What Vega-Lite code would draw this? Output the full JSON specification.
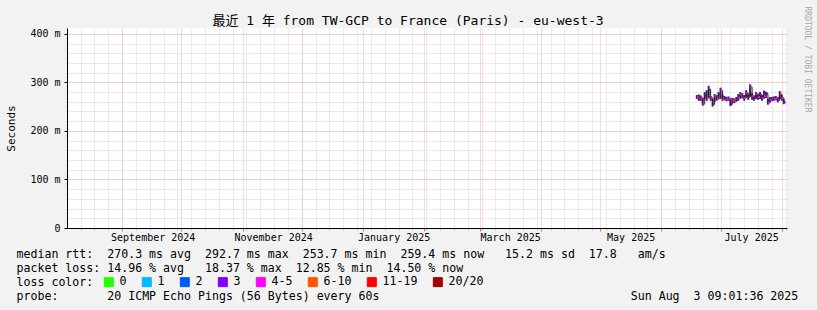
{
  "$schema": "https://vega.github.io/schema/vega-lite/v6.json",
  "width": 720,
  "height": 200,
  "autosize": {"type": "none"},
  "padding": {"left": 67, "top": 28, "right": 30, "bottom": 82},
  "background": "#f2f2f2",
  "title": {
    "text": "最近 1 年 from TW-GCP to France (Paris) - eu-west-3",
    "font": "DejaVu Sans Mono, Noto Sans CJK SC",
    "fontSize": 13,
    "fontWeight": "normal",
    "color": "black",
    "anchor": "middle",
    "frame": "group",
    "dx": -19,
    "offset": -32,
    "baseline": "alphabetic"
  },
  "config": {"view": {"stroke": null, "fill": "white"}, "font": "DejaVu Sans Mono"},
  "data": {
    "values": [
      {"date": "2025-06-19", "end": "2025-06-20", "med": 270, "lo": 266, "hi": 274, "loss": "4-5"},
      {"date": "2025-06-20", "end": "2025-06-21", "med": 271, "lo": 262, "hi": 275, "loss": "3"},
      {"date": "2025-06-21", "end": "2025-06-22", "med": 268, "lo": 262, "hi": 273, "loss": "4-5"},
      {"date": "2025-06-22", "end": "2025-06-23", "med": 256, "lo": 252, "hi": 268, "loss": "4-5"},
      {"date": "2025-06-23", "end": "2025-06-24", "med": 275, "lo": 266, "hi": 280, "loss": "3"},
      {"date": "2025-06-24", "end": "2025-06-25", "med": 268, "lo": 262, "hi": 284, "loss": "4-5"},
      {"date": "2025-06-25", "end": "2025-06-26", "med": 285, "lo": 268, "hi": 293, "loss": "3"},
      {"date": "2025-06-26", "end": "2025-06-27", "med": 268, "lo": 262, "hi": 272, "loss": "4-5"},
      {"date": "2025-06-27", "end": "2025-06-28", "med": 255, "lo": 250, "hi": 266, "loss": "3"},
      {"date": "2025-06-28", "end": "2025-06-29", "med": 272, "lo": 260, "hi": 276, "loss": "4-5"},
      {"date": "2025-06-29", "end": "2025-06-30", "med": 266, "lo": 262, "hi": 274, "loss": "4-5"},
      {"date": "2025-06-30", "end": "2025-07-01", "med": 276, "lo": 265, "hi": 280, "loss": "3"},
      {"date": "2025-07-01", "end": "2025-07-02", "med": 283, "lo": 266, "hi": 289, "loss": "4-5"},
      {"date": "2025-07-02", "end": "2025-07-03", "med": 266, "lo": 262, "hi": 276, "loss": "4-5"},
      {"date": "2025-07-03", "end": "2025-07-04", "med": 268, "lo": 263, "hi": 272, "loss": "3"},
      {"date": "2025-07-04", "end": "2025-07-05", "med": 265, "lo": 261, "hi": 270, "loss": "4-5"},
      {"date": "2025-07-05", "end": "2025-07-06", "med": 267, "lo": 262, "hi": 271, "loss": "4-5"},
      {"date": "2025-07-06", "end": "2025-07-07", "med": 255, "lo": 251, "hi": 266, "loss": "3"},
      {"date": "2025-07-07", "end": "2025-07-08", "med": 263, "lo": 258, "hi": 268, "loss": "4-5"},
      {"date": "2025-07-08", "end": "2025-07-09", "med": 262, "lo": 257, "hi": 267, "loss": "4-5"},
      {"date": "2025-07-09", "end": "2025-07-10", "med": 264, "lo": 260, "hi": 270, "loss": "3"},
      {"date": "2025-07-10", "end": "2025-07-11", "med": 268, "lo": 262, "hi": 276, "loss": "4-5"},
      {"date": "2025-07-11", "end": "2025-07-12", "med": 275, "lo": 266, "hi": 280, "loss": "4-5"},
      {"date": "2025-07-12", "end": "2025-07-13", "med": 272, "lo": 267, "hi": 278, "loss": "3"},
      {"date": "2025-07-13", "end": "2025-07-14", "med": 268, "lo": 262, "hi": 274, "loss": "4-5"},
      {"date": "2025-07-14", "end": "2025-07-15", "med": 278, "lo": 268, "hi": 284, "loss": "4-5"},
      {"date": "2025-07-15", "end": "2025-07-16", "med": 270, "lo": 264, "hi": 276, "loss": "3"},
      {"date": "2025-07-16", "end": "2025-07-17", "med": 290, "lo": 270, "hi": 296, "loss": "4-5"},
      {"date": "2025-07-17", "end": "2025-07-18", "med": 272, "lo": 264, "hi": 278, "loss": "4-5"},
      {"date": "2025-07-18", "end": "2025-07-19", "med": 268, "lo": 262, "hi": 273, "loss": "3"},
      {"date": "2025-07-19", "end": "2025-07-20", "med": 276, "lo": 266, "hi": 280, "loss": "4-5"},
      {"date": "2025-07-20", "end": "2025-07-21", "med": 270, "lo": 264, "hi": 276, "loss": "4-5"},
      {"date": "2025-07-21", "end": "2025-07-22", "med": 274, "lo": 266, "hi": 280, "loss": "3"},
      {"date": "2025-07-22", "end": "2025-07-23", "med": 268, "lo": 262, "hi": 274, "loss": "4-5"},
      {"date": "2025-07-23", "end": "2025-07-24", "med": 272, "lo": 266, "hi": 283, "loss": "4-5"},
      {"date": "2025-07-24", "end": "2025-07-25", "med": 277, "lo": 268, "hi": 281, "loss": "3"},
      {"date": "2025-07-25", "end": "2025-07-26", "med": 258, "lo": 254, "hi": 266, "loss": "4-5"},
      {"date": "2025-07-26", "end": "2025-07-27", "med": 264, "lo": 259, "hi": 270, "loss": "4-5"},
      {"date": "2025-07-27", "end": "2025-07-28", "med": 266, "lo": 261, "hi": 270, "loss": "3"},
      {"date": "2025-07-28", "end": "2025-07-29", "med": 266, "lo": 262, "hi": 271, "loss": "4-5"},
      {"date": "2025-07-29", "end": "2025-07-30", "med": 268, "lo": 263, "hi": 272, "loss": "4-5"},
      {"date": "2025-07-30", "end": "2025-07-31", "med": 264, "lo": 259, "hi": 270, "loss": "3"},
      {"date": "2025-07-31", "end": "2025-08-01", "med": 276, "lo": 266, "hi": 282, "loss": "4-5"},
      {"date": "2025-08-01", "end": "2025-08-02", "med": 268, "lo": 262, "hi": 274, "loss": "4-5"},
      {"date": "2025-08-02", "end": "2025-08-03", "med": 259, "lo": 255, "hi": 266, "loss": "3"}
    ]
  },
  "resolve": {"axis": {"x": "independent", "y": "independent"}},
  "layer": [
    {
      "mark": {"type": "rule", "strokeWidth": 2, "color": "#333333"},
      "encoding": {
        "x": {
          "field": "date", "type": "temporal",
          "scale": {"type": "utc", "nice": false, "domain": [
            {"year": 2024, "month": 8, "date": 4, "hours": 3, "utc": true},
            {"year": 2025, "month": 8, "date": 3, "hours": 16, "utc": true}]},
          "axis": {"orient": "bottom", "tickCount": {"interval": "week", "step": 1}, "grid": true, "gridColor": "#d6d6d6", "gridDash": [1, 1], "labels": false, "domain": false, "ticks": true, "tickSize": 2, "tickColor": "#bbbbbb", "title": null}
        },
        "y": {
          "field": "lo", "type": "quantitative",
          "scale": {"domain": [0, 412], "nice": false},
          "axis": {"orient": "right", "values": [20, 40, 60, 80, 100, 120, 140, 160, 180, 200, 220, 240, 260, 280, 300, 320, 340, 360, 380, 400], "grid": true, "gridColor": "#d6d6d6", "gridDash": [1, 1], "labels": false, "ticks": false, "domain": false,
            "title": "RRDTOOL / TOBI OETIKER", "titleAngle": 90, "titleColor": "#a8a8a8", "titleFontSize": 8, "titleFontWeight": "normal", "titleFont": "DejaVu Sans Mono", "titleX": 19, "titleY": 31, "titleAlign": "center", "titleBaseline": "middle"}
        },
        "y2": {"field": "hi"}
      }
    },
    {
      "mark": {"type": "line", "interpolate": "step-after", "color": "#202020", "strokeWidth": 1},
      "encoding": {
        "x": {
          "field": "date", "type": "temporal",
          "axis": {"orient": "bottom", "tickCount": {"interval": "month", "step": 1}, "grid": true, "gridColor": "#f5b0b0", "gridDash": [1, 1], "labels": false, "domain": false, "ticks": true, "tickSize": 3, "tickColor": "#e07070", "title": null}
        },
        "y": {
          "field": "med", "type": "quantitative",
          "axis": {"orient": "left", "values": [100, 200, 300, 400], "grid": true, "gridColor": "#f5b0b0", "gridDash": [1, 1], "labels": false, "ticks": false, "domain": false, "title": null}
        }
      }
    },
    {
      "mark": {"type": "rule", "strokeWidth": 2},
      "encoding": {
        "x": {
          "field": "date", "type": "temporal",
          "axis": {
            "orient": "bottom",
            "values": [
              {"year": 2024, "month": 9, "date": 16, "hours": 12, "utc": true},
              {"year": 2024, "month": 11, "date": 16, "hours": 12, "utc": true},
              {"year": 2025, "month": 1, "date": 16, "hours": 12, "utc": true},
              {"year": 2025, "month": 3, "date": 16, "hours": 12, "utc": true},
              {"year": 2025, "month": 5, "date": 16, "hours": 12, "utc": true},
              {"year": 2025, "month": 7, "date": 16, "hours": 12, "utc": true}
            ],
            "format": "%B %Y",
            "grid": false, "ticks": false, "domain": true, "domainColor": "black", "domainWidth": 1,
            "labelFont": "DejaVu Sans Mono", "labelFontSize": 10, "labelColor": "black", "labelPadding": 4, "labelFlush": false, "labelOverlap": false,
            "title": [
              "median\u00a0rtt:\u00a0\u00a0270.3\u00a0ms\u00a0avg\u00a0\u00a0292.7\u00a0ms\u00a0max\u00a0\u00a0253.7\u00a0ms\u00a0min\u00a0\u00a0259.4\u00a0ms\u00a0now\u00a0\u00a0\u00a015.2\u00a0ms\u00a0sd\u00a0\u00a017.8\u00a0\u00a0\u00a0am/s",
              "packet\u00a0loss:\u00a014.96\u00a0%\u00a0avg\u00a0\u00a0\u00a018.37\u00a0%\u00a0max\u00a0\u00a012.85\u00a0%\u00a0min\u00a0\u00a014.50\u00a0%\u00a0now",
              "loss\u00a0color:",
              "probe:\u00a0\u00a0\u00a0\u00a0\u00a0\u00a0\u00a020\u00a0ICMP\u00a0Echo\u00a0Pings\u00a0(56\u00a0Bytes)\u00a0every\u00a060s\u00a0\u00a0\u00a0\u00a0\u00a0\u00a0\u00a0\u00a0\u00a0\u00a0\u00a0\u00a0\u00a0\u00a0\u00a0\u00a0\u00a0\u00a0\u00a0\u00a0\u00a0\u00a0\u00a0\u00a0\u00a0\u00a0\u00a0\u00a0\u00a0\u00a0\u00a0\u00a0\u00a0\u00a0\u00a0\u00a0Sun\u00a0Aug\u00a0\u00a03\u00a009:01:36\u00a02025"
            ],
            "titleFont": "DejaVu Sans Mono", "titleFontSize": 11.6, "titleFontWeight": "normal", "titleColor": "black",
            "titleAnchor": "start", "titleAlign": "left", "titleBaseline": "alphabetic", "titleX": -51, "titleY": 29, "titleLineHeight": 14
          }
        },
        "x2": {"field": "end"},
        "y": {
          "field": "med", "type": "quantitative",
          "axis": {
            "orient": "left", "values": [0, 100, 200, 300, 400],
            "labelExpr": "datum.value == 0 ? '0' : datum.value + ' m'",
            "grid": false, "ticks": true, "tickSize": 3, "tickColor": "black", "domain": true, "domainColor": "black",
            "labelFont": "DejaVu Sans Mono", "labelFontSize": 10, "labelColor": "black", "labelPadding": 4,
            "title": "Seconds", "titleFont": "DejaVu Sans Mono", "titleFontSize": 11, "titleFontWeight": "normal", "titleColor": "black",
            "titleX": -56, "titleY": 100, "titleAngle": -90, "titleAlign": "center", "titleBaseline": "middle"
          }
        },
        "color": {
          "field": "loss", "type": "nominal",
          "scale": {
            "domain": ["0", "1", "2", "3", "4-5", "6-10", "11-19", "20/20"],
            "range": ["#26ff00", "#00b8ff", "#0059ff", "#7e00ff", "#ff00ff", "#ff5500", "#ff0000", "#a10000"]
          },
          "legend": {
            "orient": "none", "legendX": 36, "legendY": 248, "direction": "horizontal", "columns": 8,
            "title": null, "symbolType": "square", "symbolSize": 81, "symbolStrokeColor": "black", "symbolStrokeWidth": 1,
            "labelFont": "DejaVu Sans Mono", "labelFontSize": 11.6, "labelColor": "black", "labelOffset": 5, "columnPadding": 13, "padding": 0,
            "encode": {"symbols": {"update": {"fill": {"scale": "color", "field": "value"}, "stroke": {"value": "black"}, "strokeWidth": {"value": 1}, "opacity": {"value": 1}}}}
          }
        }
      }
    }
  ]
}
